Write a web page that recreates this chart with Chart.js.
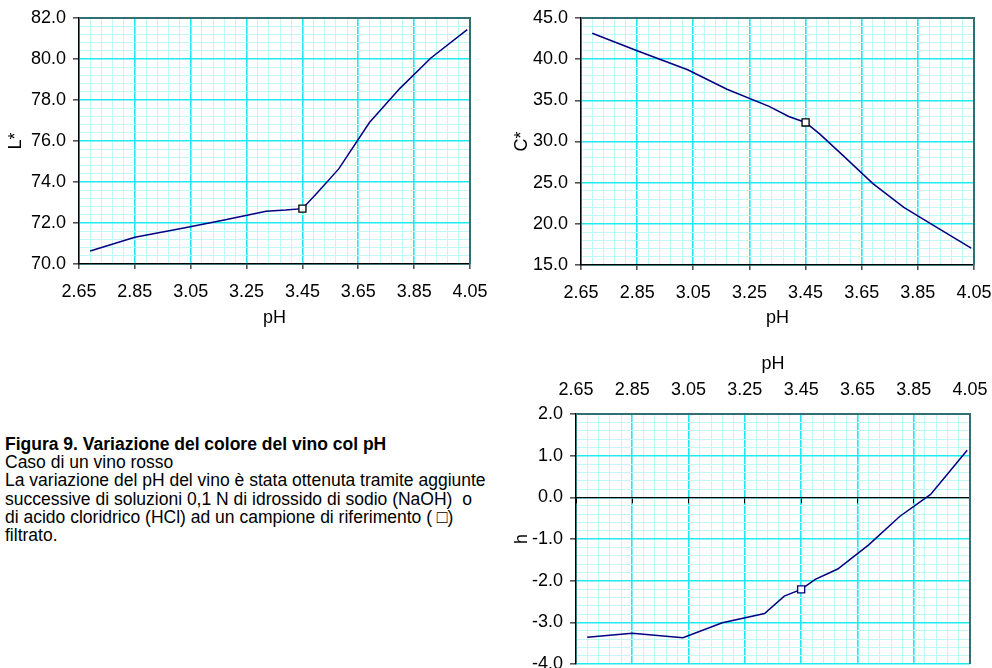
<!DOCTYPE html>
<html>
<head>
<meta charset="utf-8">
<script src="https://cdn.jsdelivr.net/npm/chart.js@4/dist/chart.umd.min.js"></script>
<style>
  html, body { margin: 0; padding: 0; background: #fff; overflow: hidden; width: 992px; height: 668px; }
  body { position: relative; font-family: 'Liberation Sans', Arial, sans-serif; color: #000; }
  .box { position: absolute; }
  #caption { position: absolute; left: 5px; top: 435px; font-size: 17.5px; line-height: 18.2px; white-space: nowrap; }
  #caption b { font-weight: bold; }
</style>
</head>
<body>
<div class="box" style="left:0;top:0;width:490px;height:340px"><canvas id="chartL"></canvas></div>
<div class="box" style="left:490px;top:0;width:502px;height:340px"><canvas id="chartC"></canvas></div>
<div class="box" style="left:490px;top:340px;width:502px;height:345px"><canvas id="chartH"></canvas></div>
<div id="caption">
  <b>Figura 9. Variazione del colore del vino col pH</b><br>
  Caso di un vino rosso<br>
  La variazione del pH del vino è stata ottenuta tramite aggiunte<br>
  successive di soluzioni 0,1 N di idrossido di sodio (NaOH)&nbsp; o<br>
  di acido cloridrico (HCl) ad un campione di riferimento ( □)<br>
  filtrato.
</div>
<script>
// pH of each sample (shared by the three charts)
const ph = [2.69, 2.85, 3.03, 3.17, 3.32, 3.39, 3.45, 3.50, 3.58, 3.69, 3.80, 3.91, 4.04];
const lStar = [70.63, 71.30, 71.77, 72.15, 72.57, 72.63, 72.70, 73.43, 74.64, 76.90, 78.58, 80.05, 81.43];
const cStar = [43.14, 41.03, 38.72, 36.35, 34.26, 33.04, 32.31, 30.92, 28.40, 24.89, 22.00, 19.73, 17.05];
const hue = [-3.36, -3.26, -3.37, -3.01, -2.79, -2.37, -2.21, -1.97, -1.72, -1.14, -0.46, 0.07, 1.13];
const refIndex = 6; // reference sample (white square)

const phMin = 2.65, phMax = 4.05, phStep = 0.04;

const MAJOR = '#1eeaf0';
const MINOR = '#c2f7f8';
const FRAME = '#336f70';
const FONT = { family: "'Liberation Sans', Arial, sans-serif", size: 18 };

function stepTicks(min, max, step) {
  const n = Math.round((max - min) / step);
  const out = [];
  for (let i = 0; i <= n; i++) out.push({ value: +(min + i * step).toFixed(6) });
  return out;
}

const isMajor = c => c.index % 5 === 0;

const framePlugin = {
  id: 'frame',
  afterDatasetsDraw(chart) {
    const { ctx, chartArea: a } = chart;
    ctx.save();
    ctx.strokeStyle = FRAME;
    ctx.lineWidth = 2;
    ctx.beginPath();
    ctx.moveTo(a.left, a.top);
    ctx.lineTo(a.right, a.top);
    ctx.lineTo(a.right, a.bottom);
    ctx.stroke();
    ctx.restore();
  }
};

function gridOpts(tickLen) {
  return {
    color: c => isMajor(c) ? MAJOR : MINOR,
    lineWidth: c => isMajor(c) ? 1.6 : 1,
    tickColor: c => isMajor(c) ? '#555' : 'rgba(0,0,0,0)',
    tickLength: tickLen,
    drawTicks: tickLen > 0
  };
}

// keep the plot area where the layout padding puts it
function noOverflow(s) {
  s.paddingLeft = 0; s.paddingRight = 0; s.paddingTop = 0; s.paddingBottom = 0;
}

function xAxis(position, height, labelPad, titlePad) {
  return {
    type: 'linear',
    position: position,
    min: phMin, max: phMax,
    afterBuildTicks: s => { s.ticks = stepTicks(phMin, phMax, phStep); },
    afterFit: s => { s.height = height; noOverflow(s); },
    ticks: {
      autoSkip: false, maxRotation: 0, color: '#000', font: FONT, padding: labelPad,
      callback: (v, i) => i % 5 === 0 ? v.toFixed(2) : ''
    },
    grid: gridOpts(position === 'top' ? 0 : 5),
    border: { color: position === 'top' ? FRAME : '#000', width: position === 'top' ? 2 : 1.5 },
    title: { display: true, text: 'pH', color: '#000', font: FONT, padding: titlePad }
  };
}

function yAxis(min, max, step, width, title, titlePad) {
  return {
    type: 'linear',
    min: min, max: max,
    afterBuildTicks: s => { s.ticks = stepTicks(min, max, step); },
    afterFit: s => { s.width = width; noOverflow(s); },
    ticks: {
      autoSkip: false, color: '#000', font: FONT, padding: 7,
      callback: (v, i) => i % 5 === 0 ? v.toFixed(1) : ''
    },
    grid: gridOpts(6),
    border: { color: '#000', width: 1.5 },
    title: { display: true, text: title, color: '#000', font: FONT, padding: titlePad }
  };
}

function series(values, markerColor) {
  return {
    data: ph.map((x, i) => ({ x: x, y: values[i] })),
    xAxisID: 'x', yAxisID: 'y',
    showLine: true,
    borderColor: '#000080',
    borderWidth: 1.5,
    tension: 0,
    pointStyle: 'rect',
    pointRadius: c => c.dataIndex === refIndex ? 5 : 0,
    pointHoverRadius: 0,
    pointBackgroundColor: '#fff',
    pointBorderColor: markerColor,
    pointBorderWidth: 1.3
  };
}

const common = {
  responsive: true,
  maintainAspectRatio: false,
  animation: false,
  plugins: { legend: { display: false }, tooltip: { enabled: false } }
};

new Chart(document.getElementById('chartL'), {
  type: 'scatter',
  data: { datasets: [series(lStar, '#000')] },
  options: Object.assign({}, common, {
    layout: { padding: { left: 0, right: 20, top: 18, bottom: 0 } },
    scales: {
      x: xAxis('bottom', 76, 12, { top: 0, bottom: 11 }),
      y: yAxis(70, 82, 0.4, 79, 'L*', { top: 5, bottom: 0 })
    }
  }),
  plugins: [framePlugin]
});

new Chart(document.getElementById('chartC'), {
  type: 'scatter',
  data: { datasets: [series(cStar, '#000')] },
  options: Object.assign({}, common, {
    layout: { padding: { left: 0, right: 18, top: 18, bottom: 0 } },
    scales: {
      x: xAxis('bottom', 75, 12, { top: 0, bottom: 11 }),
      y: yAxis(15, 45, 1, 91, 'C*', { top: 21, bottom: 0 })
    }
  }),
  plugins: [framePlugin]
});

const hx0 = {
  type: 'linear',
  position: { y: 0 },
  min: phMin, max: phMax,
  afterBuildTicks: s => { s.ticks = stepTicks(phMin, phMax, phStep); },
  afterFit: noOverflow,
  ticks: { display: false },
  grid: {
    drawOnChartArea: false,
    tickLength: 5,
    tickColor: c => isMajor(c) ? '#000' : 'rgba(0,0,0,0)'
  },
  border: { color: '#000', width: 1.3 }
};

new Chart(document.getElementById('chartH'), {
  type: 'scatter',
  data: { datasets: [series(hue, '#000080')] },
  options: Object.assign({}, common, {
    layout: { padding: { left: 0, right: 22, top: 0, bottom: 21 } },
    scales: {
      x: xAxis('top', 74, 13, { top: 13, bottom: 0 }),
      x0: hx0,
      y: yAxis(-4, 2, 0.2, 86, 'h', { top: 21, bottom: 0 })
    }
  }),
  plugins: [framePlugin]
});
</script>
</body>
</html>
